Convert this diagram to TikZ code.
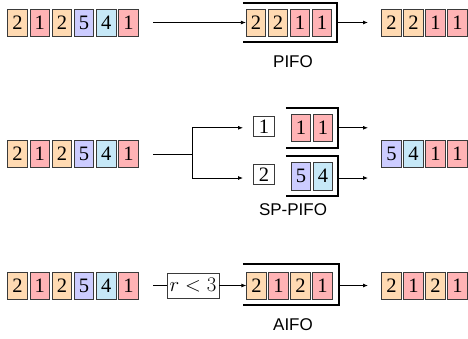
\documentclass[tikz,border=0pt]{standalone}
\usepackage{fontspec}
\setmainfont{Liberation Serif}
\newfontfamily\labelfont{Liberation Sans}
\usetikzlibrary{arrows.meta}
\definecolor{po}{HTML}{FFDAB2}
\definecolor{pr}{HTML}{FFB3B5}
\definecolor{pv}{HTML}{CCCCFF}
\definecolor{pc}{HTML}{C6E8F7}
\definecolor{edge}{HTML}{3A3A3A}
\tikzset{
  cell/.style={draw=edge,line width=0.8pt,minimum width=19.5pt,minimum height=27pt,inner sep=0pt,
    font=\fontsize{20.5}{20.5}\selectfont},
  tagbox/.style={draw=edge,line width=0.8pt,minimum width=21pt,minimum height=20pt,inner sep=0pt,fill=white,
    font=\fontsize{20.5}{20.5}\selectfont},
  condbox/.style={draw=edge,line width=0.8pt,minimum width=52pt,minimum height=25pt,inner sep=0pt,
    font=\fontsize{20.5}{20.5}\selectfont},
  qspace/.style={draw=none,inner sep=0pt},
  bracket/.style={line width=1.6pt,black},
  arr/.style={line width=0.8pt,-{Latex[length=5pt,width=4pt]}},
  conn/.style={line width=0.8pt},
  lab/.style={font=\labelfont\fontsize{17}{17}\selectfont}
}
\begin{document}
\begin{tikzpicture}[x=1pt,y=-1pt]
\useasboundingbox (0,0) rectangle (468,338);
% ---------- Row 1: PIFO ----------
\foreach \v/\c [count=\i] in {2/po,1/pr,2/po,5/pv,4/pc,1/pr}
  \node[cell,fill=\c] (in1-\i) at ({17.5+22.2*(\i-1)},22.5) {\v};
\node[qspace,minimum width=94pt,minimum height=39pt] (pifo) at (290,22.5) {};
\draw[bracket] (pifo.north west) -- (pifo.north east) -- (pifo.south east) -- (pifo.south west);
\foreach \v/\c [count=\i] in {2/po,2/po,1/pr,1/pr}
  \node[cell,fill=\c] (p1-\i) at ({256+22*(\i-1)},22.5) {\v};
\foreach \v/\c [count=\i] in {2/po,2/po,1/pr,1/pr}
  \node[cell,fill=\c] (o1-\i) at ({391.5+22*(\i-1)},22.5) {\v};
\coordinate (s1) at (153,22.5);
\coordinate (e1) at (368,22.5);
\draw[arr] (s1) -- (p1-1.west);
\draw[arr] (pifo.east) -- (e1);
\node[lab] (l1) at (293,62) {PIFO};
% ---------- Row 2: SP-PIFO ----------
\foreach \v/\c [count=\i] in {2/po,1/pr,2/po,5/pv,4/pc,1/pr}
  \node[cell,fill=\c] (in2-\i) at ({17.5+22.2*(\i-1)},154) {\v};
\node[qspace,minimum width=52pt,minimum height=39.5pt] (sq1) at (312,127.8) {};
\node[qspace,minimum width=52pt,minimum height=40pt] (sq2) at (312,176) {};
\draw[bracket] (sq1.north west) -- (sq1.north east) -- (sq1.south east) -- (sq1.south west);
\draw[bracket] (sq2.north west) -- (sq2.north east) -- (sq2.south east) -- (sq2.south west);
\node[cell,fill=pr] (q1-1) at (301,127.8) {1};
\node[cell,fill=pr] (q1-2) at (323,127.8) {1};
\node[cell,fill=pv,minimum height=28pt] (q2-1) at (301,176) {5};
\node[cell,fill=pc,minimum height=28pt] (q2-2) at (323,176) {4};
\node[tagbox] (t1) at (264,126.5) {1};
\node[tagbox] (t2) at (264,174.5) {2};
\foreach \v/\c [count=\i] in {5/pv,4/pc,1/pr,1/pr}
  \node[cell,fill=\c] (o2-\i) at ({391.5+22*(\i-1)},153.5) {\v};
\coordinate (s2) at (153,154);
\coordinate (j2) at (192,154);
\coordinate (a2t) at (243,127.8);
\coordinate (a2b) at (243,178);
\coordinate (e2t) at (368,127.8);
\coordinate (e2b) at (368,178);
\draw[conn] (s2) -- (j2);
\draw[arr] (j2) |- (a2t);
\draw[arr] (j2) |- (a2b);
\draw[arr] (sq1.east) -- (e2t);
\draw[arr] (sq2.east |- e2b) -- (e2b);
\node[lab] (l2) at (293,210) {SP-PIFO};
% ---------- Row 3: AIFO ----------
\foreach \v/\c [count=\i] in {2/po,1/pr,2/po,5/pv,4/pc,1/pr}
  \node[cell,fill=\c] (in3-\i) at ({17.5+22.2*(\i-1)},285.5) {\v};
\node[condbox] (cond) at (193,285.5) {$r<3$};
\node[qspace,minimum width=96pt,minimum height=41pt] (aifo) at (291,284.5) {};
\draw[bracket] (aifo.north west) -- (aifo.north east) -- (aifo.south east) -- (aifo.south west);
\foreach \v/\c [count=\i] in {2/po,1/pr,2/po,1/pr}
  \node[cell,fill=\c] (a3-\i) at ({256.5+22*(\i-1)},285.5) {\v};
\foreach \v/\c [count=\i] in {2/po,1/pr,2/po,1/pr}
  \node[cell,fill=\c] (o3-\i) at ({391.5+22*(\i-1)},285.5) {\v};
\coordinate (s3) at (153,285.5);
\coordinate (e3) at (368,285.5);
\draw[conn] (s3) -- (cond.west);
\draw[arr] (cond.east) -- (a3-1.west);
\draw[arr] (aifo.east |- e3) -- (e3);
\node[lab] (l3) at (293,325) {AIFO};
\end{tikzpicture}
\end{document}
